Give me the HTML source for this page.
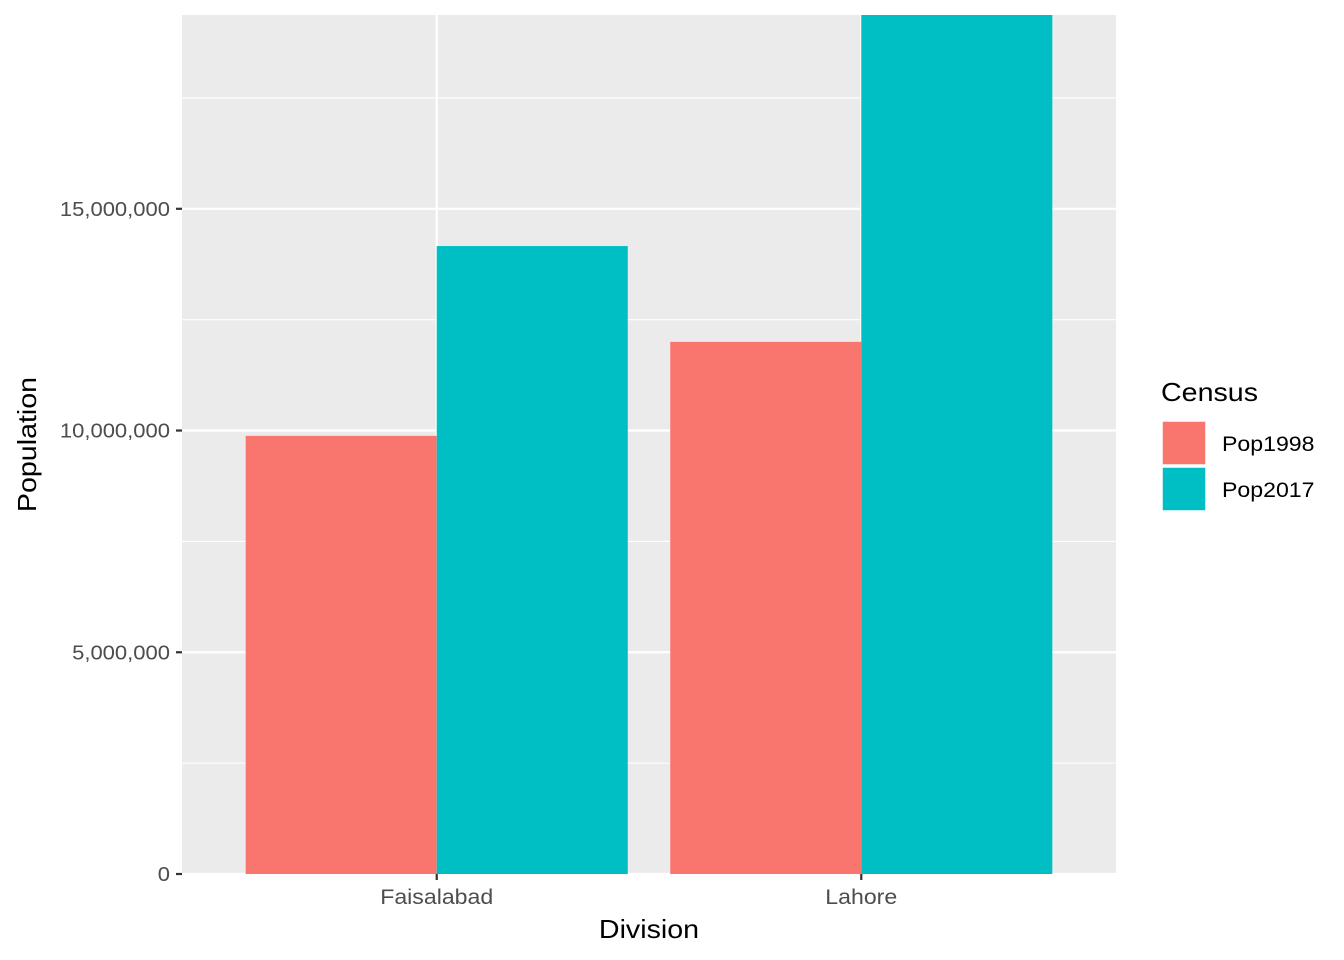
<!DOCTYPE html>
<html><head><meta charset="utf-8"><style>
body{margin:0;background:#fff;}
svg{display:block;font-family:"Liberation Sans",sans-serif;}
</style></head><body>
<svg id="chart" width="1344" height="960"></svg>
<script>
const categories=["Faisalabad","Lahore"];
const seriesNames=["Pop1998","Pop2017"];
const pop1998=[9880000,12000000];
const pop2017=[14160000,19370000];
const yTicks=[0,5000000,10000000,15000000];
const yTickLabels=["0","5,000,000","10,000,000","15,000,000"];
const colors=["#F8766D","#00BFC4"];

const NS="http://www.w3.org/2000/svg";
const svg=document.getElementById('chart');
const L=182,R=1116,T=15,B=874,yMax=19370000;
const y=v=>B-(v/yMax)*(B-T);
const unit=(R-L)/(categories.length-1+1.2);
const x=i=>L+unit*(0.6+i);
function el(t,a,p){const e=document.createElementNS(NS,t);for(const k in a)e.setAttribute(k,a[k]);(p||svg).appendChild(e);return e;}
const texts=[];

const panel=el('rect',{x:L,y:T,width:R-L,height:B-T,fill:'#EBEBEB'});


for(let i=0;i<yTicks.length;i++){
  const m=yTicks[i]+2500000;
  if(m<yMax){const g=el('line',{x1:L,x2:R,y1:y(m),y2:y(m),stroke:'#fff','stroke-width':1.1});
  
  }
}
yTicks.forEach((v,i)=>{
  const g=el('line',{x1:L,x2:R,y1:y(v),y2:y(v),stroke:'#fff','stroke-width':2.2});
  
  
  const t=el('line',{x1:L-6,x2:L,y1:y(v),y2:y(v),stroke:'#333','stroke-width':2.2});
  
  
  const lb=el('text',{x:L-12,y:y(v)+7,'text-anchor':'end','font-size':20,fill:'#4D4D4D'});
  lb.textContent=yTickLabels[i];
  
  
  texts.push(lb);
});
categories.forEach((c,i)=>{
  const g=el('line',{x1:x(i),x2:x(i),y1:T,y2:B,stroke:'#fff','stroke-width':2.2});
  
  
});
const bw=unit*0.9/2;
[pop1998,pop2017].forEach((s,si)=>{
  s.forEach((v,i)=>{
    const x0=x(i)-bw+si*bw;
    const top=Math.max(y(v),T);
    const r=el('rect',{x:x0,y:top,width:bw,height:B-top,fill:colors[si]});
    
    
  });
});
categories.forEach((c,i)=>{
  const t=el('line',{x1:x(i),x2:x(i),y1:B,y2:B+6,stroke:'#333','stroke-width':2.2});
  
  
  const lb=el('text',{x:x(i),y:B+30,'text-anchor':'middle','font-size':21,fill:'#4D4D4D'});
  lb.textContent=c;
  
  
  texts.push(lb);
});
const xt=el('text',{x:(L+R)/2,y:938,'text-anchor':'middle','font-size':26,fill:'#000'});
xt.textContent='Division';


texts.push(xt);
const yt=el('text',{x:0,y:0,'text-anchor':'middle','font-size':26,fill:'#000',transform:`translate(36,${(T+B)/2}) rotate(-90)`});
yt.textContent='Population';


texts.push(yt);
const lg=el('g',{});


const lt=el('text',{x:1161,y:401,'font-size':26,fill:'#000'},lg);
lt.textContent='Census';


texts.push(lt);
seriesNames.forEach((n,i)=>{
  const k=el('rect',{x:1162,y:421+i*46,width:44,height:44,fill:colors[i],stroke:'#fff','stroke-width':1.5},lg);
  
  
  const t=el('text',{x:1222,y:451+i*46,'font-size':21,fill:'#000'},lg);
  t.textContent=n;
  
  
  texts.push(t);
});
texts.forEach(t=>{
  const w=t.getComputedTextLength();
  t.setAttribute('textLength',(w*1.1).toFixed(1));
  t.setAttribute('lengthAdjust','spacingAndGlyphs');
});
</script>
</body></html>
